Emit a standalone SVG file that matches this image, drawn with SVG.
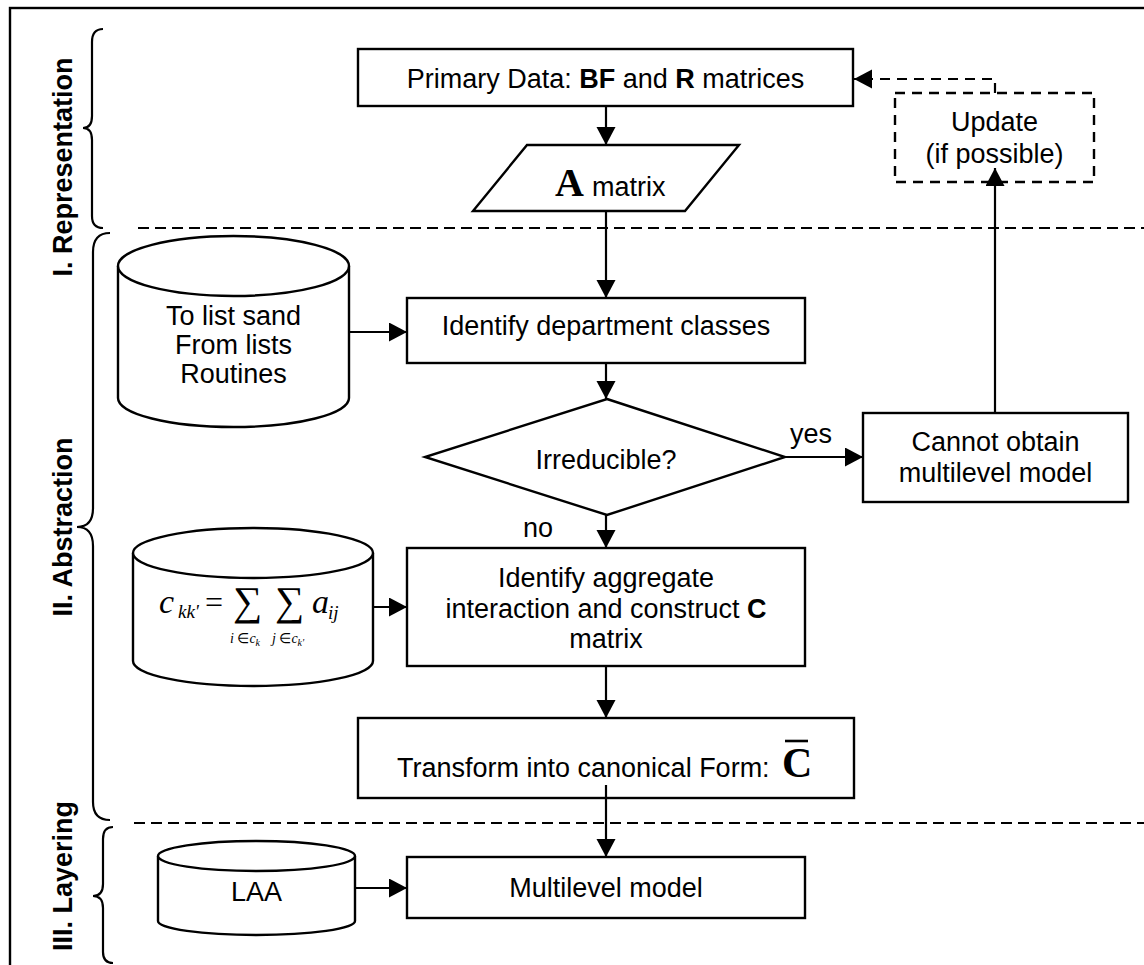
<svg xmlns="http://www.w3.org/2000/svg" width="1144" height="965" viewBox="0 0 1144 965">
<style>
.ln{fill:none;stroke:#000;stroke-width:2.2}
.box{fill:#fff;stroke:#000;stroke-width:2.4}
.dbox{fill:#fff;stroke:#000;stroke-width:2.4;stroke-dasharray:10 7}
.sep{fill:none;stroke:#000;stroke-width:2.2;stroke-dasharray:11 6}
.t{font-family:"Liberation Sans",Arial,sans-serif;font-size:27px;fill:#000}
.lbl{font-family:"Liberation Sans",Arial,sans-serif;font-size:27px;font-weight:bold;fill:#000}
.m{font-family:"Liberation Serif","Times New Roman",serif;fill:#000}
</style>
<defs>
<marker id="ah" markerUnits="userSpaceOnUse" markerWidth="20" markerHeight="20" refX="18" refY="9.5" orient="auto">
<path d="M0,0 L18,9.5 L0,19 z" fill="#000"/>
</marker>
</defs>
<rect x="0" y="0" width="1144" height="965" fill="#fff"/>
<rect x="10" y="8" width="1160" height="980" fill="none" stroke="#000" stroke-width="2.4"/>
<g id="sections">
<line class="sep" x1="138" y1="228" x2="1144" y2="228"/>
<line class="sep" x1="134" y1="823" x2="1144" y2="823"/>
<path class="ln" d="M103,29 Q92,29 92,42 L92,116 Q92,128 83,128 Q92,128 92,140 L92,216 Q92,228 103,228"/>
<path class="ln" d="M110,233 Q93,233 93,252 L93,508 Q93,527 77,527 Q93,527 93,546 L93,802 Q93,820 110,820"/>
<path class="ln" d="M113,827 Q103,827 103,839 L103,884 Q103,896 93,896 Q103,896 103,908 L103,952 Q103,963 113,963"/>
<text class="lbl" transform="translate(72,167) rotate(-90)" text-anchor="middle">I. Representation</text>
<text class="lbl" transform="translate(72,527) rotate(-90)" text-anchor="middle">II. Abstraction</text>
<text class="lbl" transform="translate(72,876) rotate(-90)" text-anchor="middle">III. Layering</text>
</g>
<g id="primary">
<rect class="box" x="358" y="49" width="495" height="57"/>
<text class="t" x="605.5" y="88" text-anchor="middle">Primary Data: <tspan font-weight="bold">BF</tspan> and <tspan font-weight="bold">R</tspan> matrices</text>
</g>
<g id="update">
<rect class="dbox" x="895" y="93" width="199" height="89"/>
<text class="t" x="994.5" y="131" text-anchor="middle">Update</text>
<text class="t" x="994.5" y="163" text-anchor="middle">(if possible)</text>
</g>
<g id="amatrix">
<polygon class="box" points="527,145 739,145 685,211 473,211"/>
<text class="m" x="555" y="196" font-size="40" font-weight="bold">A</text>
<text class="t" x="592" y="196">matrix</text>
</g>
<g id="routines">
<path class="box" d="M118,266 L118,398 A115.5,29 0 0 0 349,398 L349,266"/>
<ellipse class="box" cx="233.5" cy="266" rx="115.5" ry="30"/>
<text class="t" x="233.5" y="325" text-anchor="middle">To list sand</text>
<text class="t" x="233.5" y="354" text-anchor="middle">From lists</text>
<text class="t" x="233.5" y="383" text-anchor="middle">Routines</text>
</g>
<g id="classes">
<rect class="box" x="407" y="298" width="398" height="65"/>
<text class="t" x="606" y="335" text-anchor="middle">Identify department classes</text>
</g>
<g id="irreducible">
<polygon class="box" points="607,399 785,457 607,515 425,457"/>
<text class="t" x="606" y="469" text-anchor="middle">Irreducible?</text>
</g>
<g id="cannot">
<rect class="box" x="863" y="413" width="265" height="89"/>
<text class="t" x="995.5" y="451" text-anchor="middle">Cannot obtain</text>
<text class="t" x="995.5" y="482" text-anchor="middle">multilevel model</text>
</g>
<g id="formula">
<path class="box" d="M133,553 L133,661 A120,25 0 0 0 373,661 L373,553"/>
<ellipse class="box" cx="253" cy="553" rx="120" ry="25"/>
<text class="m" x="159" y="613" font-size="34" font-style="italic">c</text>
<text class="m" x="178" y="618" font-size="19" font-style="italic">kk'</text>
<text class="m" x="205" y="613" font-size="32">=</text>
<text class="m" x="233" y="615" font-size="41">∑</text>
<text class="m" x="275" y="615" font-size="41">∑</text>
<text class="m" x="312" y="613" font-size="34" font-style="italic">a</text>
<text class="m" x="328" y="619" font-size="19" font-style="italic">ij</text>
<text class="m" x="230" y="643" font-size="14" font-style="italic">i <tspan font-style="normal">∈</tspan>c<tspan font-size="10" dy="3">k</tspan></text>
<text class="m" x="272" y="643" font-size="14" font-style="italic">j <tspan font-style="normal">∈</tspan>c<tspan font-size="10" dy="3">k'</tspan></text>
</g>
<g id="aggregate">
<rect class="box" x="407" y="548" width="398" height="118"/>
<text class="t" x="606" y="587" text-anchor="middle">Identify aggregate</text>
<text class="t" x="606" y="618" text-anchor="middle">interaction and construct <tspan font-weight="bold">C</tspan></text>
<text class="t" x="606" y="648" text-anchor="middle">matrix</text>
</g>
<g id="transform">
<rect class="box" x="358" y="718" width="496" height="80"/>
<text class="t" x="397" y="777">Transform into canonical Form:</text>
<text class="m" x="782" y="777" font-size="42" font-weight="bold">C</text>
<line x1="785" y1="741" x2="808" y2="741" stroke="#000" stroke-width="2.6"/>
</g>
<g id="laa">
<path class="box" d="M158,856 L158,921 A98.5,14 0 0 0 355,921 L355,856"/>
<ellipse class="box" cx="256.5" cy="856" rx="98.5" ry="15"/>
<text class="t" x="256.5" y="901" text-anchor="middle">LAA</text>
</g>
<g id="multilevel">
<rect class="box" x="407" y="857" width="398" height="61"/>
<text class="t" x="606" y="897" text-anchor="middle">Multilevel model</text>
</g>
<g id="connectors">
<line class="ln" x1="606" y1="106" x2="606" y2="145" marker-end="url(#ah)"/>
<line class="ln" x1="606" y1="211" x2="606" y2="298" marker-end="url(#ah)"/>
<line class="ln" x1="349" y1="332" x2="407" y2="332" marker-end="url(#ah)"/>
<line class="ln" x1="606" y1="363" x2="606" y2="399" marker-end="url(#ah)"/>
<line class="ln" x1="785" y1="457" x2="863" y2="457" marker-end="url(#ah)"/>
<line class="ln" x1="606" y1="515" x2="606" y2="548" marker-end="url(#ah)"/>
<line class="ln" x1="373" y1="607" x2="407" y2="607" marker-end="url(#ah)"/>
<line class="ln" x1="606" y1="666" x2="606" y2="718" marker-end="url(#ah)"/>
<line class="ln" x1="606" y1="785" x2="606" y2="857" marker-end="url(#ah)"/>
<line class="ln" x1="355" y1="888" x2="407" y2="888" marker-end="url(#ah)"/>
<line class="ln" x1="995" y1="413" x2="995" y2="168" marker-end="url(#ah)"/>
<polyline points="995,93 995,79 854,79" fill="none" stroke="#000" stroke-width="2.2" stroke-dasharray="10 7" marker-end="url(#ah)"/>
<text class="t" x="790" y="443">yes</text>
<text class="t" x="523" y="537">no</text>
</g>
</svg>
